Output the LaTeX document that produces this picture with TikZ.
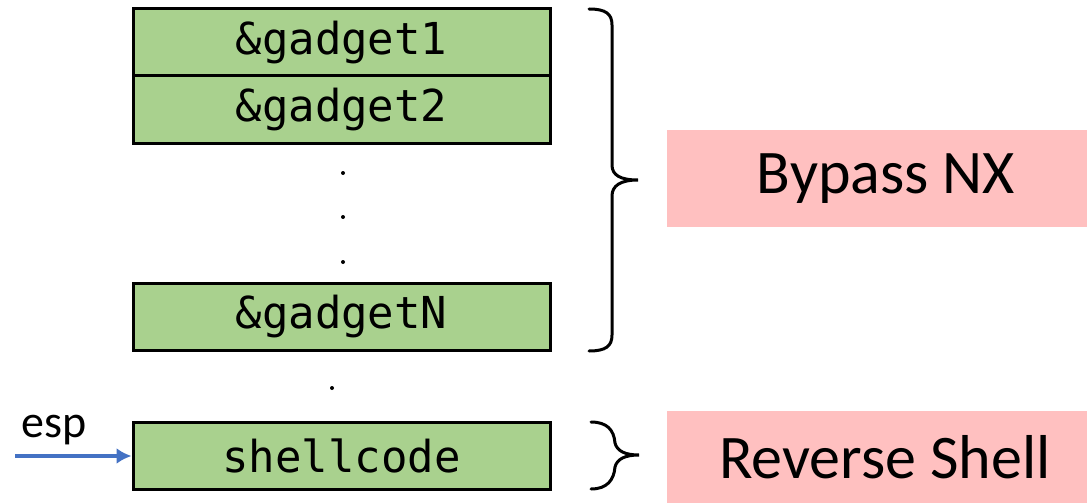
\documentclass[tikz,border=0pt]{standalone}
\usepackage{fontspec}
\usetikzlibrary{arrows.meta}
\setmainfont{Carlito}
\newfontfamily\codefont{DejaVu Sans Mono}
\definecolor{slotgreen}{HTML}{A9D18E}
\definecolor{notepink}{HTML}{FFC0C0}
\definecolor{espblue}{HTML}{4472C4}
\begin{document}
\begin{tikzpicture}[x=1pt,y=-1pt,
  slot/.style={draw=black,line width=3pt,fill=slotgreen,minimum width=417pt,minimum height=67pt,inner sep=0pt,font=\codefont\fontsize{44}{48}\selectfont},
  note/.style={fill=notepink,minimum width=420pt,inner sep=0pt,font=\fontsize{62}{70}\selectfont},
  bracestyle/.style={line width=3pt,line cap=round},
  dotmark/.style={fill=black}]
\useasboundingbox (0,0) rectangle (1087,503);
\node[slot] (g1) at (341.5,42.5) {\raisebox{-2pt}{\&gadget1}};
\node[slot] (g2) at (341.5,109.5) {\raisebox{-2pt}{\&gadget2}};
\node[slot] (gN) at (341.5,317) {\raisebox{-2pt}{\&gadgetN}};
\node[slot] (sc) at (341.5,456) {\raisebox{-2pt}{shellcode}};
\fill[dotmark] (343,173) circle (2);
\fill[dotmark] (343,217) circle (2);
\fill[dotmark] (343,262) circle (2);
\fill[dotmark] (332,388) circle (2);
\coordinate (espstart) at (15,456);
\draw[espblue,line width=3.5pt,-{Latex[length=15pt,width=16pt]}] (espstart) -- (sc.west);
\node[anchor=base,inner sep=0pt,font=\fontsize{46}{50}\selectfont] (esp) at (54,437) {esp};
\draw[bracestyle] (589,9) .. controls (606,9) and (612,14) .. (612,25) -- (612,165)
  .. controls (612,175) and (620,180) .. (638,180)
  .. controls (620,180) and (612,186) .. (612,196) -- (612,335)
  .. controls (612,346) and (606,351) .. (589,351);
\draw[bracestyle] (591,422) .. controls (607,422) and (614,430) .. (615,443)
  .. controls (617,451) and (625,455) .. (639,455)
  .. controls (625,455) and (617,459) .. (615,467)
  .. controls (614,480) and (607,489) .. (591,489);
\node[note,minimum height=97pt] (nx) at (877,178.5) {\hspace*{18pt}Bypass NX};
\node[note,minimum height=92pt] (rs) at (877,457) {\hspace*{16pt}Reverse Shell};
\end{tikzpicture}
\end{document}
